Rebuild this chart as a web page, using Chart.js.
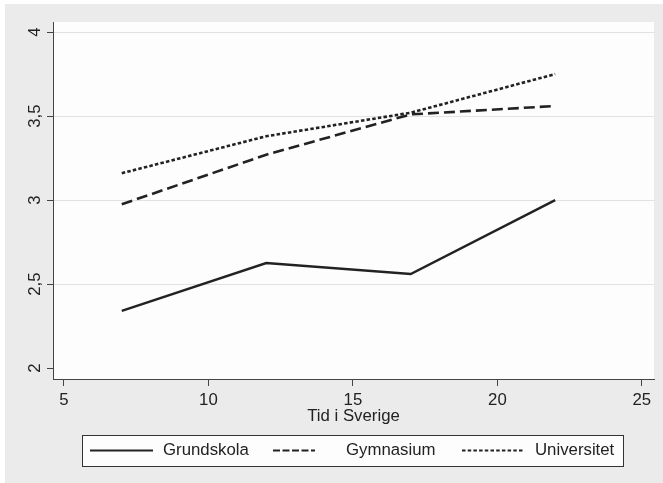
<html>

<script src="https://cdn.jsdelivr.net/npm/chart.js@4/dist/chart.umd.min.js"></script>

<body style="margin: 0; background: #fff;">
    <canvas id="myChart" width="663" height="483"></canvas>
</body>

<script>
    // values
    var xValues = [7, 12, 17, 22];
    var grundskola = [2.34, 2.625, 2.56, 3.0];
    var gymnasium = [2.975, 3.27, 3.51, 3.56];
    var universitet = [3.16, 3.38, 3.52, 3.75];

    var xTicks = [5, 10, 15, 20, 25];
    var yTicks = [2, 2.5, 3, 3.5, 4];
    var yTickLabels = ["2", "2,5", "3", "3,5", "4"];
    var xTitle = "Tid i Sverige";
    var legendLabels = ["Grundskola", "Gymnasium", "Universitet"];

    var font = '"Liberation Sans", Arial, sans-serif';
    var ink = "#222";

    function pts(ys) {
        return ys.map(function (y, i) { return { x: xValues[i], y: y }; });
    }

    var framePlugin = {
        id: "frame",
        beforeDraw: function (chart) {
            var ctx = chart.ctx, a = chart.chartArea;
            ctx.save();
            ctx.fillStyle = "#ffffff";
            ctx.fillRect(0, 0, chart.width, chart.height);
            ctx.fillStyle = "#ebebeb";
            ctx.fillRect(5, 4, chart.width - 5, chart.height - 4);
            ctx.fillStyle = "#fdfdfd";
            ctx.fillRect(a.left, a.top, a.right - a.left, a.bottom - a.top);
            ctx.restore();
        },
        afterDraw: function (chart) {
            var ctx = chart.ctx;
            var ys = chart.scales.y;
            ctx.save();
            // rotated y tick labels
            ctx.font = "16.8px " + font;
            ctx.fillStyle = ink;
            ctx.textAlign = "center";
            ctx.textBaseline = "middle";
            for (var i = 0; i < yTicks.length; i++) {
                ctx.save();
                ctx.translate(35, ys.getPixelForValue(yTicks[i]));
                ctx.rotate(-Math.PI / 2);
                ctx.fillText(yTickLabels[i], 0, 0);
                ctx.restore();
            }
            // legend box
            ctx.fillStyle = "#fdfdfd";
            ctx.fillRect(82.5, 435.5, 541, 31);
            ctx.strokeStyle = "#333";
            ctx.lineWidth = 1;
            ctx.strokeRect(82.5, 435.5, 541, 31);
            var cy = 450.5;
            var starts = [90, 273, 462];
            var lens = [63, 42, 61];
            var dashes = [[], [7, 2.5], [3.5, 2.2]];
            ctx.textAlign = "left";
            for (var k = 0; k < legendLabels.length; k++) {
                ctx.beginPath();
                ctx.setLineDash(dashes[k]);
                ctx.lineWidth = 2;
                ctx.strokeStyle = ink;
                ctx.moveTo(starts[k], cy);
                ctx.lineTo(starts[k] + lens[k], cy);
                ctx.stroke();
                ctx.setLineDash([]);
                ctx.fillStyle = ink;
                ctx.fillText(legendLabels[k], starts[k] + 73, cy);
            }
            ctx.restore();
        }
    };

    new Chart("myChart", {
        type: "line",
        data: {
            datasets: [
                {
                    label: legendLabels[0],
                    data: pts(grundskola),
                    borderColor: ink,
                    borderWidth: 2.4,
                    pointRadius: 0,
                    fill: false
                }, {
                    label: legendLabels[1],
                    data: pts(gymnasium),
                    borderColor: ink,
                    borderWidth: 2.6,
                    borderDash: [11, 5],
                    pointRadius: 0,
                    fill: false
                }, {
                    label: legendLabels[2],
                    data: pts(universitet),
                    borderColor: ink,
                    borderWidth: 2.6,
                    borderDash: [3.5, 2.2],
                    pointRadius: 0,
                    fill: false
                }
            ]
        },
        options: {
            responsive: false,
            animation: false,
            devicePixelRatio: 1,
            layout: { padding: { top: 22, right: 9, left: 0, bottom: 57 } },
            plugins: {
                legend: { display: false },
                tooltip: { enabled: false }
            },
            scales: {
                x: {
                    type: "linear",
                    min: 4.62,
                    max: 25.42,
                    afterBuildTicks: function (s) { s.ticks = xTicks.map(function (v) { return { value: v }; }); },
                    afterFit: function (s) { s.height = 47; },
                    border: { color: "#444", width: 1 },
                    grid: { drawOnChartArea: false, drawTicks: true, tickLength: 7, tickColor: "#444" },
                    ticks: { color: ink, font: { family: font, size: 16.8 }, padding: 4, maxRotation: 0 },
                    title: { display: true, text: xTitle, color: ink, font: { family: font, size: 16.8 }, padding: 0 }
                },
                y: {
                    min: 1.935,
                    max: 4.06,
                    afterBuildTicks: function (s) { s.ticks = yTicks.map(function (v) { return { value: v }; }); },
                    afterFit: function (s) { s.width = 53; },
                    border: { color: "#444", width: 1 },
                    grid: {
                        color: function (c) { return c.tick && c.tick.value === 2 ? "rgba(0,0,0,0)" : "#e2e2e2"; },
                        tickColor: "#444",
                        tickLength: 6
                    },
                    ticks: { display: false }
                }
            }
        },
        plugins: [framePlugin]
    });
</script>

</html>
